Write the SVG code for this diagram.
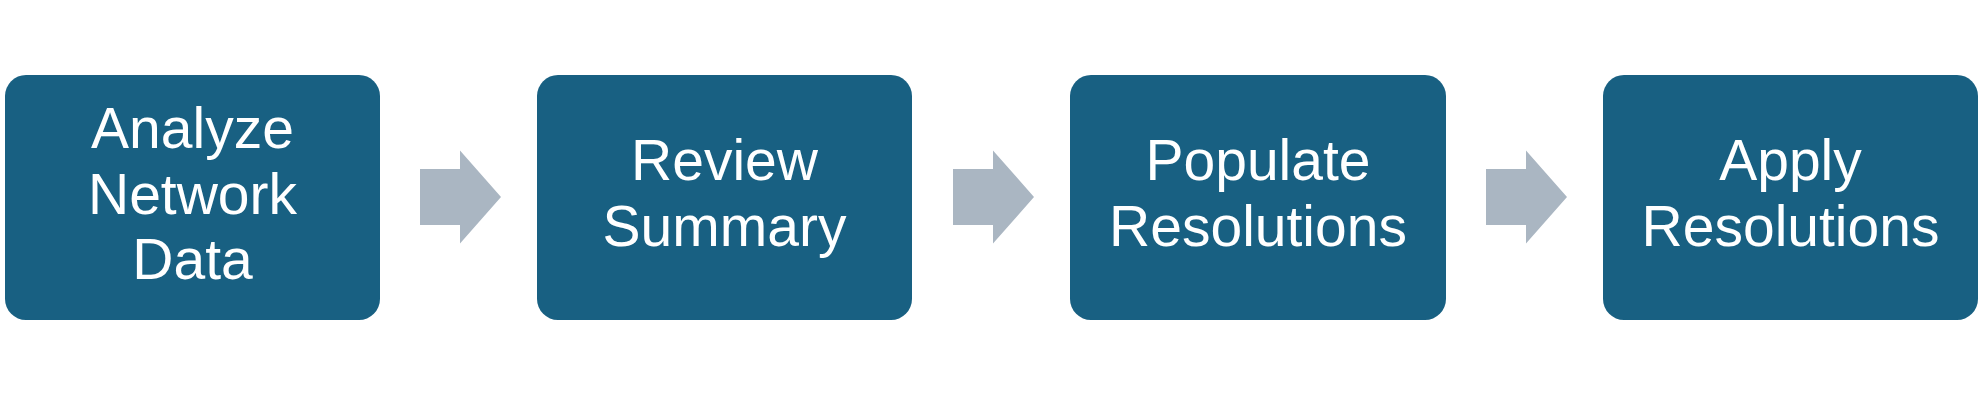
<svg xmlns="http://www.w3.org/2000/svg" width="1983" height="393" viewBox="0 0 1983 393">
<style>
.box{fill:#186082}
.lbl{fill:#ffffff;font-family:"Liberation Sans",Arial,sans-serif;font-size:57px;text-anchor:middle}
.arr{fill:#aab6c2}
</style>
<rect width="1983" height="393" fill="#ffffff"/>
<g id="connectors">
<polygon class="arr" points="420,169 460,169 460,150.5 501,197 460,243.5 460,225 420,225"/>
<polygon class="arr" points="953,169 993,169 993,150.5 1034,197 993,243.5 993,225 953,225"/>
<polygon class="arr" points="1486,169 1526,169 1526,150.5 1567,197 1526,243.5 1526,225 1486,225"/>
</g>
<g id="node1">
<rect class="box" x="5" y="75" width="375" height="245" rx="21"/>
<text class="lbl" x="192.5" y="148">Analyze</text>
<text class="lbl" x="192.5" y="214">Network</text>
<text class="lbl" x="192.5" y="279">Data</text>
</g>
<g id="node2">
<rect class="box" x="537" y="75" width="375" height="245" rx="21"/>
<text class="lbl" x="724.5" y="180">Review</text>
<text class="lbl" x="724.5" y="246">Summary</text>
</g>
<g id="node3">
<rect class="box" x="1070" y="75" width="376" height="245" rx="21"/>
<text class="lbl" x="1258" y="180">Populate</text>
<text class="lbl" x="1258" y="246">Resolutions</text>
</g>
<g id="node4">
<rect class="box" x="1603" y="75" width="375" height="245" rx="21"/>
<text class="lbl" x="1790.5" y="180">Apply</text>
<text class="lbl" x="1790.5" y="246">Resolutions</text>
</g>
</svg>
